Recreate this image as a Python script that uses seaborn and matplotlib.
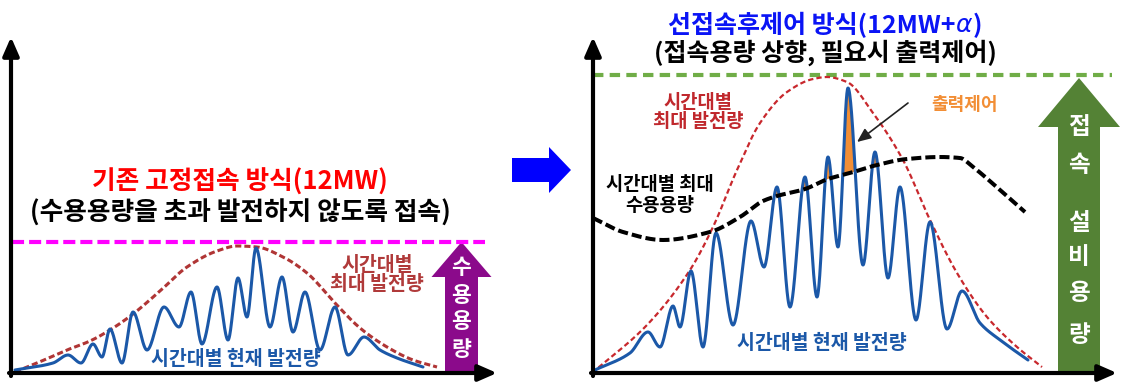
import numpy as np
import matplotlib
matplotlib.use("Agg")
import matplotlib.pyplot as plt
import seaborn as sns
from matplotlib.patches import FancyArrow

# ---------------- data (pixel units) ----------------
# left panel: current generation (peaks / troughs)
left_gen_x = [15, 53, 68, 81, 93, 102, 110, 122, 133, 147, 164, 179, 191, 202, 217, 228, 238,
              247, 256, 270, 282, 293, 305, 320, 335, 348, 364, 380, 397, 423]
left_gen_y = [370, 363, 355, 363, 344, 357, 329, 363, 312, 350, 307, 327, 292, 344, 287, 340, 278,
              317, 248, 327, 277, 332, 292, 350, 307, 355, 337, 350, 358, 367]
# left panel: max generation envelope
left_max_x = [15, 37, 67, 90, 110, 133, 160, 187, 217, 237, 257, 283, 307, 335, 360, 387, 413, 437]
left_max_y = [372, 363, 350, 341, 330, 314, 291, 267, 251, 246, 247, 257, 273, 303, 328, 347, 360, 367]
left_cap_y = 242  # fixed connection capacity

# right panel: current generation
right_gen_x = [595, 630, 648, 660, 673, 680, 691, 703, 716, 733, 751, 764, 777, 790, 805, 817, 828,
               838, 848, 863, 875, 888, 900, 916, 930, 947, 962, 980, 1000, 1028]
right_gen_y = [370, 353, 332, 347, 306, 327, 271, 347, 233, 325, 221, 267, 187, 307, 177, 297, 157,
               247, 88, 265, 152, 278, 187, 320, 222, 329, 291, 323, 340, 360]
# right panel: max generation envelope
right_max_x = [592, 647, 690, 713, 737, 760, 787, 813, 827, 847, 873, 903, 930, 957, 987, 1017, 1042]
right_max_y = [373, 325, 270, 227, 170, 123, 92, 79, 77, 82, 113, 160, 220, 273, 317, 347, 367]
# right panel: max hosting capacity
right_host_x = [593, 623, 663, 710, 740, 763, 777, 805, 828, 850, 873, 907, 940, 960, 973, 1000, 1025]
right_host_y = [218, 232, 240, 232, 217, 201, 196, 189, 179, 173, 166, 159, 157, 158, 167, 190, 212]
right_cap_y = 75  # connection facility capacity


def pchip(xk, yk, xs):
    xk = np.asarray(xk, float)
    yk = np.asarray(yk, float)
    h = np.diff(xk)
    d = np.diff(yk) / h
    n = len(xk)
    m = np.zeros(n)
    for k in range(1, n - 1):
        if d[k - 1] * d[k] > 0:
            w1 = 2 * h[k] + h[k - 1]
            w2 = h[k] + 2 * h[k - 1]
            m[k] = (w1 + w2) / (w1 / d[k - 1] + w2 / d[k])
    m[0] = d[0]
    m[-1] = d[-1]
    i = np.clip(np.searchsorted(xk, xs) - 1, 0, n - 2)
    t = (xs - xk[i]) / h[i]
    h00 = 2 * t**3 - 3 * t**2 + 1
    h10 = t**3 - 2 * t**2 + t
    h01 = -2 * t**3 + 3 * t**2
    h11 = t**3 - t**2
    return h00 * yk[i] + h10 * h[i] * m[i] + h01 * yk[i + 1] + h11 * h[i] * m[i + 1]


def smooth(xk, yk):
    xs = np.linspace(xk[0], xk[-1], 1500)
    return xs, pchip(xk, yk, xs)


sns.set_style("white")
plt.rcParams['font.family'] = ['Noto Sans CJK KR', 'DejaVu Sans']

fig = plt.figure(figsize=(11.24, 3.86), dpi=100)
ax = fig.add_axes([0, 0, 1, 1])
ax.set_xlim(0, 1124)
ax.set_ylim(386, 0)
ax.axis("off")

blue = "#1b58a8"

# ---------------- left panel ----------------
sns.lineplot(x=[12, 485], y=[left_cap_y, left_cap_y], ax=ax, color="#ff00ff", lw=3,
             linestyle=(0, (2.9, 1.2)), estimator=None, sort=False)
xs, ys = smooth(left_max_x, left_max_y)
sns.lineplot(x=xs, y=ys, ax=ax, color="#b03535", lw=2.2, linestyle=(0, (2.0, 1.0)),
             estimator=None, sort=False)
xs, ys = smooth(left_gen_x, left_gen_y)
sns.lineplot(x=xs, y=ys, ax=ax, color=blue, lw=2.2, estimator=None, sort=False)

axkw = dict(arrowstyle="-|>,head_width=0.35,head_length=0.8", lw=3, color="k",
            shrinkA=0, shrinkB=0, mutation_scale=14)
ax.annotate("", xy=(11, 37), xytext=(11, 376), arrowprops=axkw)
ax.annotate("", xy=(497, 373), xytext=(9, 373), arrowprops=axkw)

ax.add_patch(FancyArrow(461.5, 373, 0, 242 - 373, width=33, head_width=60, head_length=35,
                        length_includes_head=True, color="#8b0a8b", lw=0))
for ch, yy in zip("수용용량", [268, 296, 322, 349]):
    ax.text(461.5, yy, ch, color="white", fontsize=15.5, fontweight="bold", ha="center", va="center")

ax.text(240, 182, "기존 고정접속 방식(12MW)", color="#ff0000", fontsize=18.5, fontweight="bold",
        ha="center", va="center")
ax.text(240, 213, "(수용용량을 초과 발전하지 않도록 접속)", color="black", fontsize=18.5,
        fontweight="bold", ha="center", va="center")
ax.text(377, 275, "시간대별\n최대 발전량", color="#b03a3a", fontsize=14, fontweight="bold",
        ha="center", va="center", linespacing=1.05)
ax.text(236, 359, "시간대별 현재 발전량", color=blue, fontsize=14, fontweight="bold",
        ha="center", va="center")

# middle arrow
ax.add_patch(FancyArrow(512, 170, 59, 0, width=24, head_width=46, head_length=22,
                        length_includes_head=True, color="#0000ff", lw=0))

# ---------------- right panel ----------------
sns.lineplot(x=[593, 1112], y=[right_cap_y, right_cap_y], ax=ax, color="#70ad47", lw=3,
             linestyle=(0, (2.5, 1.5)), estimator=None, sort=False)

gx, gy = smooth(right_gen_x, right_gen_y)
hx, hy = smooth(right_host_x, right_host_y)
common = np.linspace(max(gx[0], hx[0]), min(gx[-1], hx[-1]), 3000)
g_c = pchip(right_gen_x, right_gen_y, common)
h_c = pchip(right_host_x, right_host_y, common)
ax.fill_between(common, g_c, h_c, where=g_c < h_c, interpolate=True, color="#f28e35", lw=0, zorder=1)

xs, ys = smooth(right_max_x, right_max_y)
sns.lineplot(x=xs, y=ys, ax=ax, color="#c8282d", lw=1.6, linestyle=(0, (2.4, 1.4)),
             estimator=None, sort=False)
sns.lineplot(x=gx, y=gy, ax=ax, color=blue, lw=2.2, estimator=None, sort=False)
sns.lineplot(x=hx, y=hy, ax=ax, color="black", lw=2.9, linestyle=(0, (2.5, 1.0)),
             estimator=None, sort=False)

ax.annotate("", xy=(593, 37), xytext=(593, 376), arrowprops=axkw)
ax.annotate("", xy=(1117, 373), xytext=(591, 373), arrowprops=axkw)

ax.add_patch(FancyArrow(1079, 373, 0, 78 - 373, width=42, head_width=82, head_length=49,
                        length_includes_head=True, color="#548235", lw=0))
for ch, yy in zip("접속설비용량", [127, 165, 223, 257, 293, 335]):
    ax.text(1079, yy, ch, color="white", fontsize=17, fontweight="bold", ha="center", va="center")

ax.annotate("", xy=(857, 142), xytext=(908, 103),
            arrowprops=dict(arrowstyle="-|>,head_width=0.3,head_length=0.7", lw=1.2, color="#222222",
                            shrinkA=0, shrinkB=0, mutation_scale=12))
ax.text(965, 105, "출력제어", color="#f28e35", fontsize=13, fontweight="bold", ha="center", va="center")
ax.text(698, 112, "시간대별\n최대 발전량", color="#c0282d", fontsize=13.5, fontweight="bold",
        ha="center", va="center", linespacing=1.05)
ax.text(660, 195, "시간대별 최대\n수용용량", color="black", fontsize=13.5, fontweight="bold",
        ha="center", va="center", linespacing=1.15)
ax.text(822, 343, "시간대별 현재 발전량", color=blue, fontsize=14, fontweight="bold",
        ha="center", va="center")

# right title, alpha drawn in italic with a separate text
title_c = "#0a14f5"
renderer = fig.canvas.get_renderer()
parts = [("선접속후제어 방식(12MW+", dict(fontweight="bold")),
         ("α", dict(family="DejaVu Sans", fontstyle="italic")),
         (")", dict(fontweight="bold"))]
objs = []
for s, kw in parts:
    objs.append(ax.text(0, 25, s, color=title_c, fontsize=18, ha="left", va="center", **kw))
widths = [o.get_window_extent(renderer).width for o in objs]
x0 = 825 - sum(widths) / 2
for o, w in zip(objs, widths):
    o.set_x(x0)
    x0 += w
ax.text(825, 53, "(접속용량 상향, 필요시 출력제어)", color="black", fontsize=18, fontweight="bold",
        ha="center", va="center")

fig.savefig("out.png", dpi=100)
